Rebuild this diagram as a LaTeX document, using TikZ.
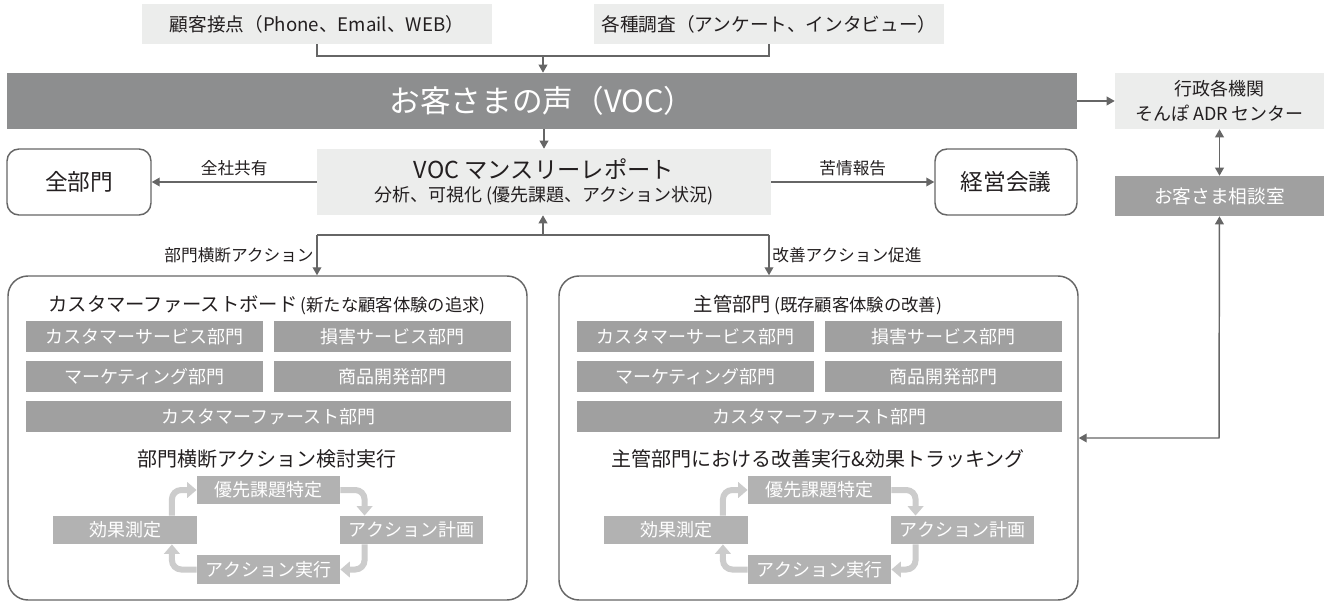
\documentclass[tikz,border=0pt]{standalone}
\usepackage{fontspec}
\setmainfont{Noto Sans CJK JP}
\usetikzlibrary{arrows.meta,positioning}
\definecolor{paleGray}{RGB}{236,237,236}
\definecolor{vocGray}{RGB}{141,142,143}
\definecolor{deptGray}{RGB}{160,160,160}
\definecolor{cycGray}{RGB}{178,178,178}
\definecolor{cycArrow}{RGB}{204,204,204}
\definecolor{lineGray}{RGB}{102,102,102}
\definecolor{inkGray}{RGB}{35,31,32}
\begin{document}
\begin{tikzpicture}[x=0.75pt, y=-0.75pt]
    \tikzstyle{pale}=[fill=paleGray, inner sep=0pt, text=inkGray]
    \tikzstyle{dept}=[fill=deptGray, inner sep=0pt, text=white, font=\fontsize{13.5}{16}\selectfont, minimum height=23.25pt]
    \tikzstyle{half}=[minimum width=177.75pt]
    \tikzstyle{cyc}=[fill=cycGray, inner sep=0pt, text=white, font=\fontsize{13.5}{16}\selectfont, minimum width=107.5pt, minimum height=21.25pt]
    \tikzstyle{roundbox}=[draw=lineGray, line width=1.1pt, fill=white, inner sep=0pt, text=inkGray]
    \tikzstyle{linkLine}=[draw=lineGray, line width=1.1pt]
    \tikzstyle{linkTip}=[-{Triangle[length=6pt,width=6.5pt]}]
    \tikzstyle{cycleArrow}=[draw=cycArrow, line width=4.5pt, rounded corners=7pt, -{Triangle[length=7pt,width=11.5pt]}]
    \tikzstyle{lbl}=[text=inkGray, font=\fontsize{12.5}{14}\selectfont, inner sep=1pt]
    \useasboundingbox (0,0) rectangle (1324,602);
    \node[pale, minimum width=262.5pt, minimum height=30pt, font=\fontsize{14}{16}\selectfont] (contact) at (317,24) {顧客接点（Phone、Email、WEB）};
    \node[pale, minimum width=262.5pt, minimum height=30pt, font=\fontsize{14}{16}\selectfont] (survey) at (769,24) {各種調査（アンケート、インタビュー）};
    \coordinate (merge) at (543,56);
    \draw[linkLine] (contact) |- (merge) -| (survey);
    \node[fill=vocGray, inner sep=0pt, text=white, minimum width=802.5pt, minimum height=42pt, font=\fontsize{23}{27}\selectfont] (voc) at (542,101) {お客さまの声（VOC）};
    \draw[linkLine, linkTip] (merge) -- (merge |- voc.north);
    \node[pale, minimum width=340.5pt, minimum height=49.5pt, align=center, font=\fontsize{13.5}{17}\selectfont] (report) at (544,182) {{\fontsize{17.5}{21}\selectfont VOC マンスリーレポート}\\分析、可視化 (優先課題、アクション状況)};
    \draw[linkLine, linkTip] (voc.south -| report) -- (report);
    \node[roundbox, rounded corners=9pt, minimum width=108pt, minimum height=49.5pt, font=\fontsize{17}{20}\selectfont] (allDept) at (79,182) {全部門};
    \node[roundbox, rounded corners=9pt, minimum width=106.5pt, minimum height=49.5pt, font=\fontsize{17}{20}\selectfont] (mgmt) at (1006,182) {経営会議};
    \draw[linkLine, linkTip] (report) -- (allDept) node[lbl, midway, above=3pt] (share) {全社共有};
    \draw[linkLine, linkTip] (report) -- (mgmt) node[lbl, midway, above=3pt] (complaint) {苦情報告};
    \node[pale, minimum width=156.75pt, minimum height=42pt, align=center, font=\fontsize{13.5}{18.5}\selectfont] (agency) at (1219.5,101) {行政各機関\\そんぽ ADR センター};
    \node[fill=deptGray, inner sep=0pt, text=white, minimum width=156.75pt, minimum height=30pt, font=\fontsize{14}{16}\selectfont] (desk) at (1219.5,196) {お客さま相談室};
    \draw[linkLine, linkTip] (voc) -- (agency);
    \draw[linkLine, {Triangle[length=6pt,width=6.5pt]}-{Triangle[length=6pt,width=6.5pt]}] (agency) -- (desk);
    \foreach \dx/\pn/\ttl/\note/\sub in {0/l/カスタマーファーストボード/新たな顧客体験の追求/部門横断アクション検討実行, 551/r/主管部門/既存顧客体験の改善/主管部門における改善実行\&効果トラッキング}{
      \node[roundbox, rounded corners=15pt, minimum width=389.25pt, minimum height=243pt] (\pn-panel) at ({267.5+\dx},438) {};
      \node[text=inkGray, inner sep=0pt] (\pn-title) at ({267+\dx},305) {{\fontsize{14.5}{17}\selectfont\ttl} {\fontsize{13}{15}\selectfont(\note)}};
      \node[dept, half] (\pn-cs) at ({144.5+\dx},336.5) {カスタマーサービス部門};
      \node[dept, half] (\pn-claim) at ({392.5+\dx},336.5) {損害サービス部門};
      \node[dept, half] (\pn-mkt) at ({144.5+\dx},376.5) {マーケティング部門};
      \node[dept, half] (\pn-prod) at ({392.5+\dx},376.5) {商品開発部門};
      \node[dept, minimum width=363.75pt] (\pn-cf) at ({268.5+\dx},416.5) {カスタマーファースト部門};
      \node[text=inkGray, font=\fontsize{15}{18}\selectfont] (\pn-sub) at ({267+\dx},459) {\sub};
      \node[cyc] (\pn-pri) at ({268.5+\dx},490) {優先課題特定};
      \node[cyc] (\pn-eff) at ({125+\dx},530) {効果測定};
      \node[cyc] (\pn-plan) at ({411.5+\dx},530) {アクション計画};
      \node[cyc] (\pn-act) at ({268.5+\dx},569.5) {アクション実行};
      \draw[cycleArrow] ([xshift=-18.75pt]\pn-eff.north east) |- (\pn-pri);
      \draw[cycleArrow] (\pn-pri) -| ([xshift=18.75pt]\pn-plan.north west);
      \draw[cycleArrow] ([xshift=18.75pt]\pn-plan.south west) |- (\pn-act);
      \draw[cycleArrow] (\pn-act) -| ([xshift=-18.75pt]\pn-eff.south east);
    }
    \coordinate (split) at (543,235);
    \coordinate (lDrop) at (317,235);
    \coordinate (rDrop) at (769,235);
    \draw[linkLine] (lDrop) -- (rDrop);
    \draw[linkLine, linkTip] (split) -- (split |- report.south);
    \draw[linkLine, linkTip] (lDrop) -- (lDrop |- l-panel.north) node[lbl, midway, left=1pt] (crossLbl) {部門横断アクション};
    \draw[linkLine, linkTip] (rDrop) -- (rDrop |- r-panel.north) node[lbl, midway, right=1pt] (improveLbl) {改善アクション促進};
    \coordinate (deskBend) at (1219,438);
    \draw[linkLine, {Triangle[length=6pt,width=6.5pt]}-{Triangle[length=6pt,width=6.5pt]}] (desk) -- (deskBend) -- (deskBend -| r-panel.east);
\end{tikzpicture}
\end{document}
